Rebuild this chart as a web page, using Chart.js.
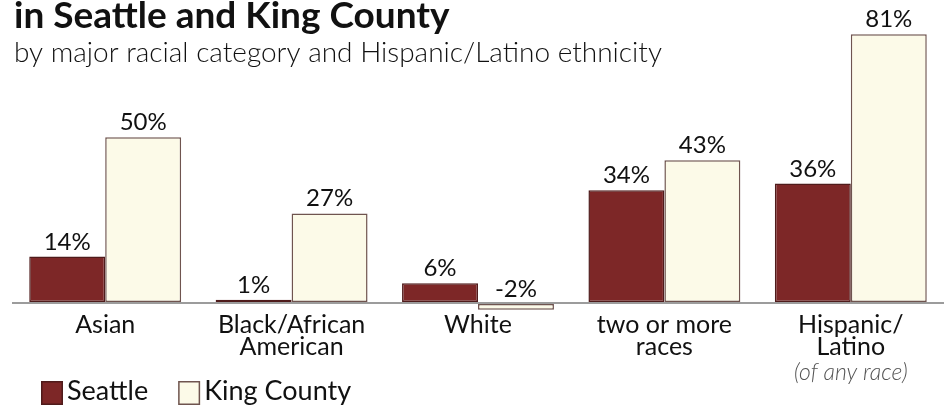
<!DOCTYPE html>
<html>
<head>
<meta charset="utf-8">
<script src="https://cdn.jsdelivr.net/npm/chart.js@4"></script>
<style>
  html, body { margin: 0; padding: 0; background: #fff; }
  #wrap { width: 948px; height: 408px; position: relative; }
</style>
</head>
<body>
<div id="wrap"><canvas id="chart"></canvas></div>
<script>
const titleText = "in Seattle and King County";
const subtitleText = "by major racial category and Hispanic/Latino ethnicity";
const categories = [["Asian"], ["Black/African", "American"], ["White"], ["two or more", "races"], ["Hispanic/", "Latino"]];
const seattle = [14, 1, 6, 34, 36];
const kingCounty = [50, 27, -2, 43, 81];
const noteText = "(of any race)";

const SEATTLE_FILL = "#7d2727";
const SEATTLE_EDGE = "#4f1b1b";
const KING_FILL = "#fcfae8";
const KING_EDGE = "#6f544f";

// texts that sit on top of the chart area: title, values, note, legend
const extras = {
  id: "extras",
  afterDraw(chart) {
    const ctx = chart.ctx;
    ctx.save();
    ctx.fillStyle = "#111";
    ctx.textBaseline = "alphabetic";
    ctx.textAlign = "left";
    ctx.font = "bold 37px Lato";
    ctx.fillText(titleText, 14, 28);
    ctx.font = "300 28px Lato";
    ctx.fillText(subtitleText, 14, 62);

    // value labels above each bar (or above the zero line for negatives)
    ctx.font = "24px Lato";
    ctx.textAlign = "center";
    chart.data.datasets.forEach((ds, i) => {
      chart.getDatasetMeta(i).data.forEach((bar, j) => {
        const top = Math.min(bar.y, bar.base);
        ctx.fillText(ds.data[j] + "%", bar.x, top - 7);
      });
    });

    // note under the Hispanic/Latino label
    const x = chart.scales.x.getPixelForValue(4);
    ctx.font = "italic 300 23px Lato";
    ctx.fillStyle = "#555";
    ctx.fillText(noteText, x, 380);

    // legend
    ctx.textAlign = "left";
    ctx.font = "27px Lato";
    let lx = 41;
    chart.data.datasets.forEach((ds) => {
      ctx.fillStyle = ds.backgroundColor;
      ctx.strokeStyle = ds.borderColor;
      ctx.lineWidth = 1.5;
      ctx.fillRect(lx, 381, 22, 24);
      ctx.strokeRect(lx + 0.75, 381.75, 20.5, 22.5);
      ctx.fillStyle = "#111";
      ctx.fillText(ds.label, lx + 26, 400);
      lx += 26 + ctx.measureText(ds.label).width + 30;
    });
    ctx.restore();
  }
};

new Chart(document.getElementById("chart"), {
  type: "bar",
  data: {
    labels: categories,
    datasets: [
      {
        label: "Seattle",
        data: seattle,
        backgroundColor: SEATTLE_FILL,
        borderColor: SEATTLE_EDGE,
        borderWidth: 1.5,
        borderSkipped: false,
      },
      {
        label: "King County",
        data: kingCounty,
        backgroundColor: KING_FILL,
        borderColor: KING_EDGE,
        borderWidth: 1.5,
        borderSkipped: false,
      },
    ],
  },
  options: {
    responsive: true,
    maintainAspectRatio: false,
    animation: false,
    layout: { padding: { top: 21, left: 12, right: 4, bottom: 49 } },
    categoryPercentage: 0.815,
    barPercentage: 1.0,
    plugins: {
      legend: { display: false },
      tooltip: { enabled: false },
    },
    scales: {
      x: {
        grid: { display: false, drawTicks: false, tickLength: 0 },
        border: { display: false },
        ticks: {
          color: "#111",
          font: { family: "Lato", size: 25, lineHeight: 0.88 },
          padding: 1,
          maxRotation: 0,
          autoSkip: false,
        },
      },
      y: {
        min: -3,
        max: 85,
        grid: {
          drawTicks: false,
          tickLength: 0,
          color: (c) => (c.tick.value === 0 ? "#9c9c9c" : "rgba(0,0,0,0)"),
          lineWidth: 2,
        },
        border: { display: false },
        ticks: { display: false, stepSize: 1 },
      },
    },
  },
  plugins: [extras],
});
</script>
</body>
</html>
